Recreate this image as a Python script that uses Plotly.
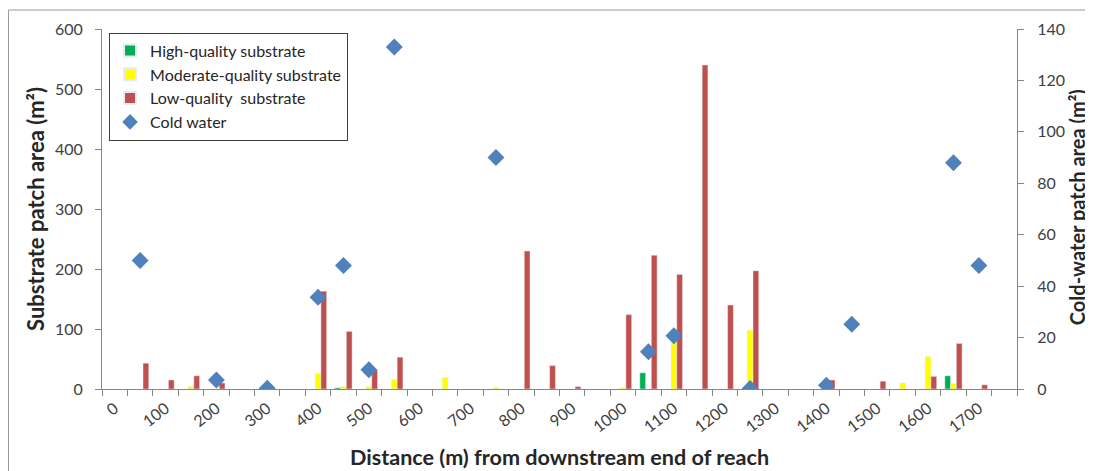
import plotly.graph_objects as go

# Categories: distance (m) from downstream end of reach, every 50 m
categories = ["0", "50", "100", "150", "200", "250", "300", "350", "400", "450",
              "500", "550", "600", "650", "700", "750", "800", "850", "900", "950",
              "1000", "1050", "1100", "1150", "1200", "1250", "1300", "1350", "1400", "1450",
              "1500", "1550", "1600", "1650", "1700", "1750"]

N = None
high_quality = [N, N, N, N, N, N, N, N, N, 2,
                N, N, N, N, N, N, N, N, N, N,
                N, 27, N, N, N, N, N, N, N, N,
                N, N, N, 22, N, N]
moderate_quality = [N, N, N, 4, N, N, N, N, 26, 4,
                    4, 16, N, 19, N, 2, N, N, N, N,
                    2, N, 88, N, N, 98, N, N, N, N,
                    N, 10, 54, 9, N, N]
low_quality = [N, 43, 15, 22, 10, N, N, N, 163, 96,
               32, 53, N, N, N, N, 230, 39, 4, N,
               124, 223, 191, 540, 140, 197, N, N, 15, N,
               13, N, 21, 76, 7, N]
cold_water = [N, 50, N, N, 3.5, N, 0.3, N, 35.7, 48,
              7.5, 133, N, N, N, 90, N, N, N, N,
              N, 14.5, 20.7, N, N, 0.2, N, N, 1.5, 25.2,
              N, N, N, 88, 48, N]

tick_labels = [c if i % 2 == 0 else "" for i, c in enumerate(categories)]

FONT = "Lato, 'Open Sans', sans-serif"
AXIS_GRAY = "#868686"
TICK_COLOR = "#404040"
TITLE_COLOR = "#262626"

fig = go.Figure()
fig.add_trace(go.Bar(x=categories, y=high_quality, name="High-quality substrate",
                     marker=dict(color="#00B050")))
fig.add_trace(go.Bar(x=categories, y=moderate_quality, name="Moderate-quality substrate",
                     marker=dict(color="#FFFF00")))
fig.add_trace(go.Bar(x=categories, y=low_quality, name="Low-quality  substrate",
                     marker=dict(color="#C0504D")))
fig.add_trace(go.Scatter(x=categories, y=cold_water, name="Cold water", mode="markers",
                         marker=dict(symbol="diamond", size=13, color="#4F81BD"),
                         yaxis="y2"))

# page body has an 8px margin, so the figure is sized to fit the 1093x471 window
fig.update_layout(
    width=1085, height=463,
    margin=dict(l=94, r=76, t=21, b=82),
    paper_bgcolor="white", plot_bgcolor="white",
    font=dict(family=FONT, size=16, color=TICK_COLOR),
    barmode="group", bargap=0.32, bargroupgap=0,
    showlegend=True,
    legend=dict(x=0.0077, y=0.99, xanchor="left", yanchor="top",
                bgcolor="white", bordercolor="#404040", borderwidth=1,
                font=dict(family=FONT, size=16, color=TITLE_COLOR),
                tracegroupgap=0, itemsizing="constant"),
    xaxis=dict(type="category", categoryorder="array", categoryarray=categories,
               tickmode="array", tickvals=categories, ticktext=tick_labels,
               tickson="boundaries", ticks="outside", ticklen=6, tickcolor=AXIS_GRAY,
               tickangle=-38, showline=True, linecolor=AXIS_GRAY, showgrid=False,
               automargin=False, ticklabelstandoff=3,
               tickfont=dict(family=FONT, size=16, color=TICK_COLOR),
               range=[-0.5, 35.5],
               title=dict(text="<b>Distance (m) from downstream end of reach</b>",
                          font=dict(family=FONT, size=21.6, color=TITLE_COLOR), standoff=15)),
    yaxis=dict(range=[0, 600], dtick=100, showgrid=False, zeroline=False,
               showline=True, linecolor=AXIS_GRAY, ticks="outside", ticklen=6,
               automargin=False, ticklabelstandoff=9,
               tickcolor=AXIS_GRAY, tickfont=dict(family=FONT, size=16, color=TICK_COLOR),
               title=dict(text="<b>Substrate patch area (m²)</b>",
                          font=dict(family=FONT, size=22, color=TITLE_COLOR), standoff=4)),
    yaxis2=dict(range=[0, 140], dtick=20, overlaying="y", side="right", showgrid=False,
                zeroline=False, showline=True, linecolor=AXIS_GRAY, ticks="outside",
                ticklen=6, tickcolor=AXIS_GRAY, automargin=False, ticklabelstandoff=10,
                tickfont=dict(family=FONT, size=16, color=TICK_COLOR)),
)

# right axis title placed explicitly so it stays inside the window
fig.add_annotation(text="<b>Cold-water patch area (m²)</b>", textangle=-90,
                   xref="paper", yref="paper", x=(1077 - 8 - 94) / 915, y=0.505,
                   xanchor="center", yanchor="middle", showarrow=False,
                   font=dict(family=FONT, size=20, color=TITLE_COLOR))

# outer chart border (as in the original chart frame)
fig.add_shape(type="rect", xref="paper", yref="paper",
              x0=(0.5 - 94) / 915, x1=1.2, y0=-0.4, y1=(381 - 2) / 360,
              line=dict(color="#9a9a9a", width=1), layer="below")

fig.write_html("out.html")
